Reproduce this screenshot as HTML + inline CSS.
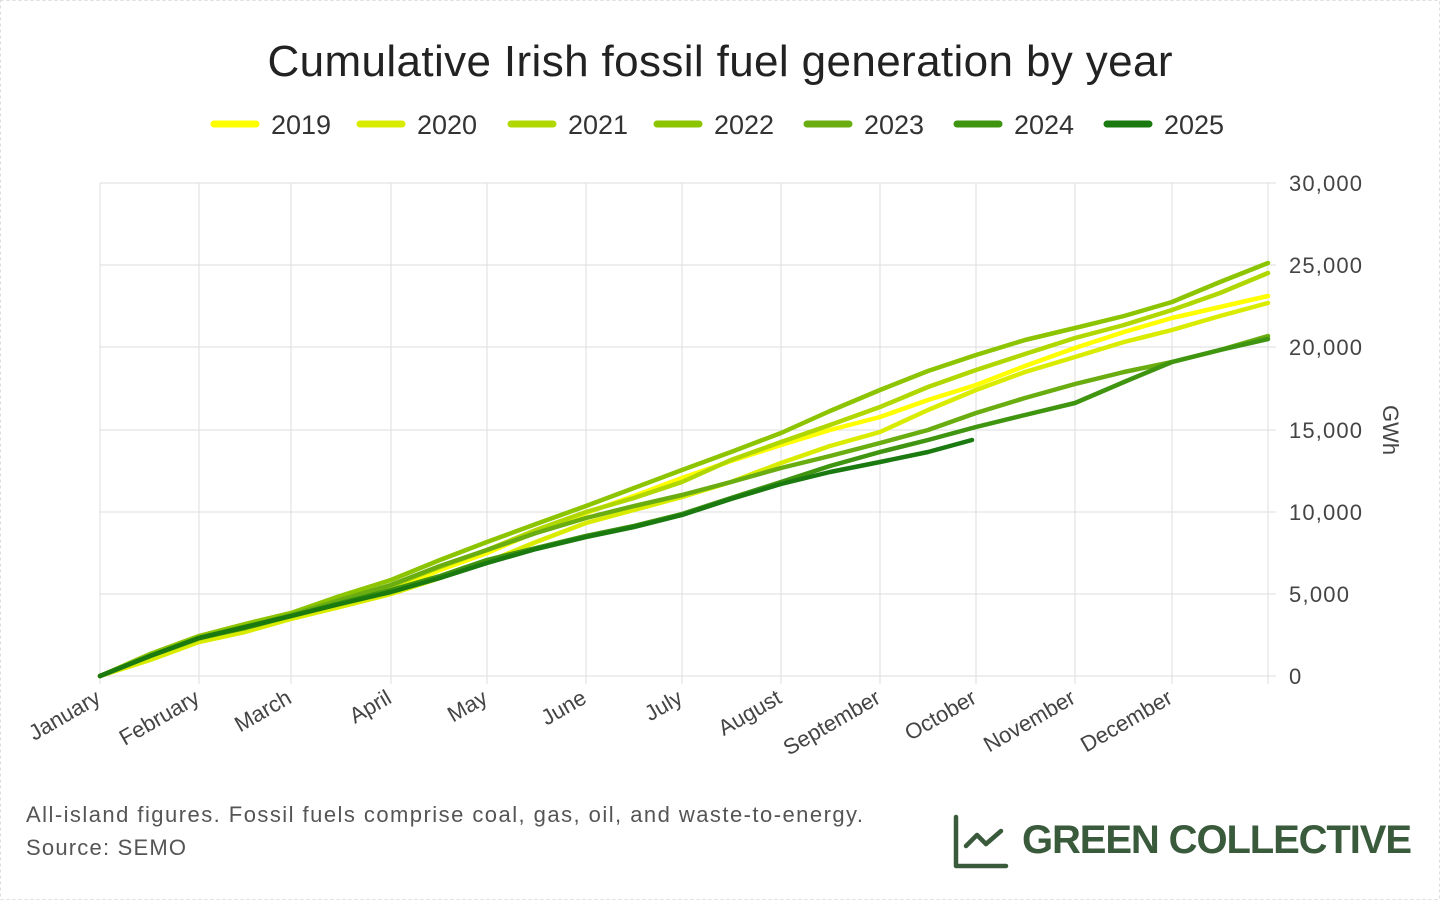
<!DOCTYPE html>
<html><head><meta charset="utf-8"><style>
body{margin:0;background:#fff;}
svg{display:block;font-family:"Liberation Sans",sans-serif;}
</style></head><body>
<svg width="1440" height="900" viewBox="0 0 1440 900">
<rect x="0.5" y="0.5" width="1439" height="899" fill="#fff" stroke="#ddd" stroke-dasharray="3,3"/>
<text x="720" y="76" text-anchor="middle" font-size="44" fill="#222" textLength="905">Cumulative Irish fossil fuel generation by year</text>
<g font-size="27" fill="#333" stroke-linecap="round">
<line x1="214" y1="124" x2="256" y2="124" stroke="#ffff00" stroke-width="7"/><text x="271" y="134">2019</text>
<line x1="360" y1="124" x2="402" y2="124" stroke="#d9ec00" stroke-width="7"/><text x="417" y="134">2020</text>
<line x1="511" y1="124" x2="553" y2="124" stroke="#b0d800" stroke-width="7"/><text x="568" y="134">2021</text>
<line x1="657" y1="124" x2="699" y2="124" stroke="#8cc400" stroke-width="7"/><text x="714" y="134">2022</text>
<line x1="807" y1="124" x2="849" y2="124" stroke="#6aad10" stroke-width="7"/><text x="864" y="134">2023</text>
<line x1="957" y1="124" x2="999" y2="124" stroke="#3f9410" stroke-width="7"/><text x="1014" y="134">2024</text>
<line x1="1107" y1="124" x2="1149" y2="124" stroke="#1a7a10" stroke-width="7"/><text x="1164" y="134">2025</text>
</g>
<g stroke="#ddd" stroke-width="1">
<line x1="100" y1="183" x2="1268" y2="183"/><line x1="100" y1="265" x2="1268" y2="265"/>
<line x1="100" y1="347" x2="1268" y2="347"/><line x1="100" y1="430" x2="1268" y2="430"/>
<line x1="100" y1="512" x2="1268" y2="512"/><line x1="100" y1="594" x2="1268" y2="594"/>
<line x1="100" y1="676" x2="1268" y2="676"/>
<line x1="100" y1="183" x2="100" y2="684"/><line x1="199" y1="183" x2="199" y2="684"/>
<line x1="291" y1="183" x2="291" y2="684"/><line x1="391" y1="183" x2="391" y2="684"/>
<line x1="487" y1="183" x2="487" y2="684"/><line x1="586" y1="183" x2="586" y2="684"/>
<line x1="682" y1="183" x2="682" y2="684"/><line x1="781" y1="183" x2="781" y2="684"/>
<line x1="880" y1="183" x2="880" y2="684"/><line x1="976" y1="183" x2="976" y2="684"/>
<line x1="1075" y1="183" x2="1075" y2="684"/><line x1="1172" y1="183" x2="1172" y2="684"/>
<line x1="1268" y1="183" x2="1268" y2="684"/>
<line x1="1268" y1="183" x2="1276" y2="183"/><line x1="1268" y1="265" x2="1276" y2="265"/><line x1="1268" y1="347" x2="1276" y2="347"/><line x1="1268" y1="430" x2="1276" y2="430"/><line x1="1268" y1="512" x2="1276" y2="512"/><line x1="1268" y1="594" x2="1276" y2="594"/><line x1="1268" y1="676" x2="1276" y2="676"/>
</g>
<g font-size="22" fill="#444">
<text x="1289" y="191" textLength="73">30,000</text><text x="1289" y="273" textLength="73">25,000</text><text x="1289" y="355" textLength="73">20,000</text>
<text x="1289" y="438" textLength="73">15,000</text><text x="1289" y="520" textLength="73">10,000</text><text x="1289" y="602" textLength="60">5,000</text><text x="1289" y="684">0</text>
<text transform="translate(1383,430) rotate(90)" text-anchor="middle">GWh</text>
</g>
<g font-size="22" fill="#444" text-anchor="end">
<text transform="translate(102,702) rotate(-30)">January</text>
<text transform="translate(201,702) rotate(-30)">February</text>
<text transform="translate(293,702) rotate(-30)">March</text>
<text transform="translate(393,702) rotate(-30)">April</text>
<text transform="translate(489,702) rotate(-30)">May</text>
<text transform="translate(588,702) rotate(-30)">June</text>
<text transform="translate(684,702) rotate(-30)">July</text>
<text transform="translate(783,702) rotate(-30)">August</text>
<text transform="translate(882,702) rotate(-30)">September</text>
<text transform="translate(978,702) rotate(-30)">October</text>
<text transform="translate(1077,702) rotate(-30)">November</text>
<text transform="translate(1174,702) rotate(-30)">December</text>
</g>
<g fill="none" stroke-width="4.5" stroke-linejoin="round" stroke-linecap="round">
<polyline stroke="#ffff00" points="100,676 150,657 199,641 245,630 291,618 340,604 391,590 440,570 487,553 536,532 586,513 634,496 682,478 731,461 781,445 830,430 880,417 928,400 976,385 1025,366 1075,348 1124,332 1172,318 1220,307 1268,296"/>
<polyline stroke="#d9ec00" points="100,676 150,660 199,642 245,632 291,619 340,607 391,594 440,578 487,562 536,542 586,523 634,510 682,497 731,482 781,463 830,446 880,432 928,410 976,390 1025,372 1075,357 1124,342 1172,330 1220,316 1268,303"/>
<polyline stroke="#b0d800" points="100,676 150,656 199,639 245,627 291,616 340,600 391,586 440,567 487,550 536,530 586,512 634,498 682,482 731,460 781,442 830,425 880,407 928,387 976,370 1025,354 1075,338 1124,325 1172,310 1220,293 1268,273"/>
<polyline stroke="#8cc400" points="100,676 150,654 199,636 245,624 291,613 340,596 391,580 440,560 487,542 536,524 586,506 634,488 682,470 731,452 781,433 830,411 880,390 928,371 976,355 1025,340 1075,328 1124,316 1172,302 1220,282 1268,263"/>
<polyline stroke="#6aad10" points="100,676 150,656 199,638 245,627 291,615 340,600 391,585 440,566 487,550 536,533 586,518 634,506 682,495 731,482 781,468 830,456 880,443 928,430 976,413 1025,398 1075,384 1124,372 1172,362 1220,350 1268,336"/>
<polyline stroke="#3f9410" points="100,676 150,656 199,638 245,628 291,616 340,603 391,590 440,576 487,560 536,548 586,536 634,526 682,514 731,498 781,482 830,466 880,452 928,440 976,427 1025,415 1075,403 1124,382 1172,362 1220,350 1268,339"/>
<polyline stroke="#1a7a10" points="100,676 150,656 199,638 245,627 291,616 340,604 391,592 440,578 487,563 536,549 586,537 634,527 682,515 731,499 781,484 830,472 880,462 928,452 972,440"/>
</g>
<text x="26" y="822" font-size="22" fill="#555" textLength="837">All-island figures. Fossil fuels comprise coal, gas, oil, and waste-to-energy.</text>
<text x="26" y="855" font-size="22" fill="#555" textLength="160">Source: SEMO</text>
<g stroke="#3a5a3c" stroke-width="4.5" fill="none" stroke-linecap="round" stroke-linejoin="round">
<polyline points="956,817 956,866 1006,866"/>
<polyline points="966,846 977,835 986,844 1001,831"/>
</g>
<text x="1022" y="853" font-size="40" font-weight="bold" fill="#3a5a3c" textLength="390">GREEN COLLECTIVE</text>
</svg>
</body></html>
